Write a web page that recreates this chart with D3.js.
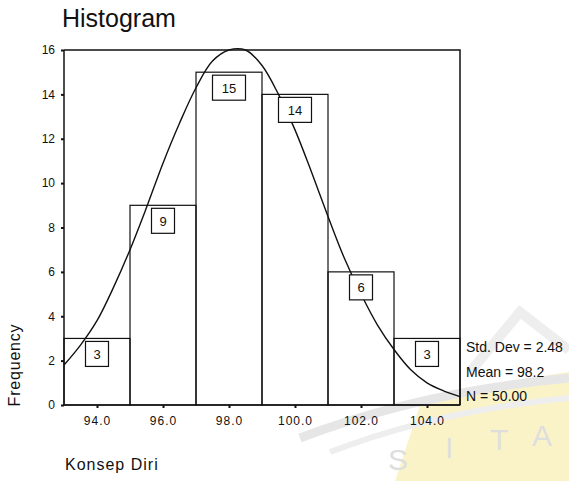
<!DOCTYPE html>
<html>
<head>
<meta charset="utf-8">
<script src="https://cdn.jsdelivr.net/npm/d3@7"></script>
<style>
	body { margin: 0; background: #fff; }
	svg { display: block; }
	text { font-family: Arial, 'Liberation Sans', sans-serif; fill: #111; }
	.axis path, .axis line { stroke: #111; }
</style>
</head>
<body>
<script>
// histogram bins (lower edge) and counts
var binStart = [93, 95, 97, 99, 101, 103],
	binWidth = 2,
	counts = [3, 9, 15, 14, 6, 3];

// tick values
var xTicks = [94, 96, 98, 100, 102, 104],
	yTicks = [0, 2, 4, 6, 8, 10, 12, 14, 16];

// normal curve
var curveX = [93, 93.5, 94, 94.5, 95, 95.5, 96, 96.5, 97, 97.5, 98, 98.5, 99, 99.5, 100, 100.5, 101, 101.5, 102, 102.5, 103, 103.5, 104, 104.5, 105],
	curveY = [1.8, 2.7, 3.8, 5.3, 7.0, 8.9, 10.9, 12.7, 14.3, 15.5, 16.0, 16.0, 15.3, 14.0, 12.4, 10.5, 8.5, 6.6, 5.0, 3.6, 2.5, 1.6, 1.0, 0.64, 0.38];

var statLabels = ['Std. Dev = 2.48', 'Mean = 98.2', 'N = 50.00'];

var W = 569, H = 481;
var x0 = 64, x1 = 460, yTop = 50, yBot = 405;

var svg = d3.select('body').append('svg')
	.attr('width', W)
	.attr('height', H);

// faint scan watermark in the corner
var wm = svg.append('g').attr('class', 'watermark');
wm.append('path')
	.attr('d', 'M395,481 L420,405 Q480,385 569,372 L569,481 Z')
	.attr('fill', '#fbf3c8');
wm.append('path')
	.attr('d', 'M300,438 Q420,392 569,378')
	.attr('fill', 'none').attr('stroke', '#e6e6e6').attr('stroke-width', 9);
wm.append('path')
	.attr('d', 'M330,452 Q440,410 569,398')
	.attr('fill', 'none').attr('stroke', '#eeeeee').attr('stroke-width', 6);
wm.append('path')
	.attr('d', 'M470,372 L520,312 L569,350')
	.attr('fill', 'none').attr('stroke', '#eeeeee').attr('stroke-width', 10);
wm.selectAll('text')
	.data([['S', 388, 470], ['I', 445, 458], ['T', 490, 450], ['A', 532, 446]])
	.enter().append('text')
	.attr('x', function(d) { return d[1]; })
	.attr('y', function(d) { return d[2]; })
	.style('font-size', '30px')
	.style('fill', '#dedede')
	.text(function(d) { return d[0]; });

var x = d3.scaleLinear().domain([93, 105]).range([x0, x1]);
var y = d3.scaleLinear().domain([0, 16]).range([yBot, yTop]);

// bars
svg.append('g').selectAll('rect')
	.data(counts)
	.enter().append('rect')
	.attr('x', function(d, i) { return x(binStart[i]); })
	.attr('y', function(d) { return y(d); })
	.attr('width', function(d, i) { return x(binStart[i] + binWidth) - x(binStart[i]); })
	.attr('height', function(d) { return y(0) - y(d); })
	.attr('fill', 'none')
	.attr('stroke', '#111')
	.attr('stroke-width', 1.2);

// frame top and right
svg.append('path')
	.attr('d', `M${x0},${yTop}H${x1}V${yBot}`)
	.attr('fill', 'none')
	.attr('stroke', '#111')
	.attr('stroke-width', 1.5);

// normal curve
var line = d3.line()
	.curve(d3.curveCatmullRom)
	.x(function(d, i) { return x(curveX[i]); })
	.y(function(d) { return y(d); });

svg.append('path')
	.datum(curveY)
	.attr('d', line)
	.attr('fill', 'none')
	.attr('stroke', '#111')
	.attr('stroke-width', 1.4);

// count boxes
var boxes = svg.append('g').selectAll('g')
	.data(counts)
	.enter().append('g')
	.attr('transform', function(d, i) {
		return `translate(${x(binStart[i] + binWidth / 2)}, ${y(d) + 3})`;
	});

boxes.append('rect')
	.attr('x', function(d) { return d >= 10 ? -16.5 : -11.5; })
	.attr('width', function(d) { return d >= 10 ? 33 : 23; })
	.attr('height', 25)
	.attr('fill', '#fff')
	.attr('stroke', '#111')
	.attr('stroke-width', 1.2);

boxes.append('text')
	.attr('y', 17.5)
	.attr('text-anchor', 'middle')
	.style('font-size', '13px')
	.text(function(d) { return d; });

// axes
var xAxis = d3.axisBottom(x)
	.tickValues(xTicks)
	.tickSize(3)
	.tickPadding(8)
	.tickFormat(d3.format('.1f'));

var yAxis = d3.axisLeft(y)
	.tickValues(yTicks)
	.tickSize(3)
	.tickPadding(6)
	.tickFormat(d3.format('d'));

svg.append('g')
	.attr('class', 'axis axis--x')
	.attr('transform', `translate(0, ${yBot})`)
	.call(xAxis)
	.call(function(g) { g.select('.domain').attr('stroke-width', 1.5).attr('d', `M${x0},0H${x1}`); })
	.selectAll('text')
	.style('font-size', '12px')
	.style('letter-spacing', '1px');

svg.append('g')
	.attr('class', 'axis axis--y')
	.attr('transform', `translate(${x0}, 0)`)
	.call(yAxis)
	.call(function(g) { g.select('.domain').attr('stroke-width', 1.5).attr('d', `M0,${yBot}V${yTop}`); })
	.selectAll('text')
	.style('font-size', '12px');

svg.selectAll('.axis line').attr('stroke-width', 2);

// titles
svg.append('text')
	.attr('x', 62)
	.attr('y', 27)
	.style('font-size', '25px')
	.text('Histogram');

svg.append('text')
	.attr('transform', 'translate(20, 365) rotate(-90)')
	.attr('text-anchor', 'middle')
	.style('font-size', '16px')
	.style('letter-spacing', '0.8px')
	.text('Frequency');

svg.append('text')
	.attr('x', 65)
	.attr('y', 470)
	.style('font-size', '16px')
	.style('letter-spacing', '1px')
	.text('Konsep Diri');

// summary stats
svg.append('g').selectAll('text')
	.data(statLabels)
	.enter().append('text')
	.attr('x', 466)
	.attr('y', function(d, i) { return 352 + i * 24.5; })
	.style('font-size', '14px')
	.text(function(d) { return d; });
</script>
</body>
</html>
